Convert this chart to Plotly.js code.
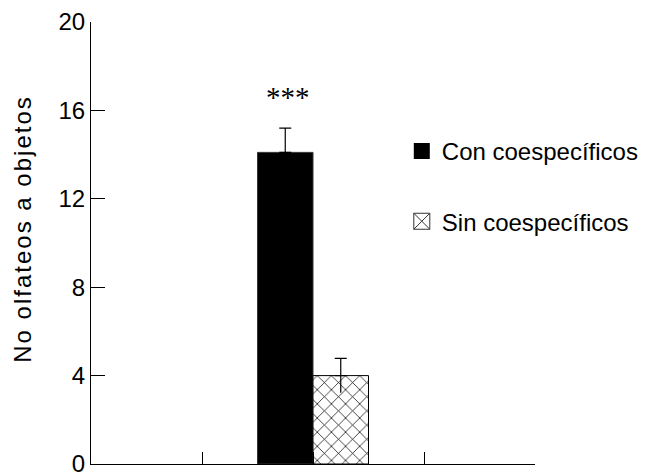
<!DOCTYPE html>
<html>
<head>
<meta charset="utf-8">
<script src="https://cdn.plot.ly/plotly-3.0.1.min.js"></script>
<style>
html,body{margin:0;padding:0;background:#fff;}
#chart{width:652px;height:474px;}
#chart .annotation.ytitle-ann text{letter-spacing:2px;}
</style>
</head>
<body>
<div id="chart"></div>
<script>
const seriesNames = ["Con coespecíficos", "Sin coespecíficos"];
const barX = [1.75, 2.25];
const barValues = [14.1, 4.0];
const barErrors = [1.1, 0.78];
const yTickVals = [0, 4, 8, 12, 16, 20];
const yTickText = ["0", "4", "8", "12", "16", "20"];
const xTickVals = [0, 1, 2, 3, 4];
const significance = "***";
const significanceY = 16.6;
const yTitle = "No olfateos a objetos";

const FONT = "Liberation Sans, Arial, sans-serif";

const traces = [
  {
    type: "bar", x: [barX[0]], y: [barValues[0]], width: 0.5, showlegend: false,
    marker: {color: "#000", line: {color: "#333", width: 1}},
    error_y: {type: "data", array: [barErrors[0]], arrayminus: [0], color: "#000", thickness: 1.2, width: 6},
    hoverinfo: "skip"
  },
  {
    type: "bar", x: [barX[1]], y: [barValues[1]], width: 0.5, showlegend: false,
    marker: {color: "#fff", line: {color: "#000", width: 1},
      pattern: {shape: "x", size: 10, solidity: 0.14, fgcolor: "#000", bgcolor: "#fff"}},
    error_y: {type: "data", array: [barErrors[1]], arrayminus: [0], color: "#000", thickness: 1.2, width: 6},
    hoverinfo: "skip"
  },
  {
    type: "scatter", mode: "lines", x: [barX[1], barX[1]], y: [barValues[1] - barErrors[1], barValues[1]],
    line: {color: "#000", width: 1.2}, showlegend: false, hoverinfo: "skip"
  },
  {
    type: "scatter", mode: "markers", x: [null], y: [null], name: seriesNames[0], legendgroup: "a",
    marker: {symbol: "square", color: "#000", size: 16}
  },
  {
    type: "scatter", mode: "markers", x: [null], y: [null], name: seriesNames[1], legendgroup: "b",
    marker: {symbol: "square-x-open", color: "#333", size: 16, line: {width: 1}}
  }
];

const layout = {
  width: 652, height: 474,
  margin: {l: 91, r: 117, t: 22, b: 10, pad: 0, autoexpand: false},
  paper_bgcolor: "#fff", plot_bgcolor: "#fff",
  font: {family: FONT, size: 24, color: "#000"},
  showlegend: true,
  legend: {x: 0.7, y: 0.758, xanchor: "left", yanchor: "top", traceorder: "grouped", tracegroupgap: 36,
    font: {family: FONT, size: 24, color: "#000"}, bgcolor: "rgba(0,0,0,0)"},
  xaxis: {
    range: [0, 4], tickvals: xTickVals, ticks: "inside", ticklen: 12, tickcolor: "#000", tickwidth: 1,
    showticklabels: false, showgrid: false, zeroline: false, showline: true, linecolor: "#000", linewidth: 1, fixedrange: true
  },
  yaxis: {
    range: [0, 20], tickvals: yTickVals, ticktext: yTickText, ticks: "inside", ticklen: 14, tickcolor: "#000", tickwidth: 1,
    showgrid: false, zeroline: false, showline: true, linecolor: "#000", linewidth: 1, fixedrange: true,
    ticklabeloverflow: "allow",
    tickfont: {family: FONT, size: 24, color: "#000"}
  },
  annotations: [
    {
      x: barX[0], y: significanceY, xref: "x", yref: "y", text: significance, showarrow: false, xshift: 3,
      font: {family: "Liberation Serif, serif", size: 29, color: "#000"}
    },
    {
      x: 0, y: 0.53, xref: "paper", yref: "paper", text: yTitle, showarrow: false, textangle: -90,
      xanchor: "center", yanchor: "middle",
      font: {family: FONT, size: 24, color: "#000"}
    }
  ]
};
// title annotation sits 23px from the left edge of the page
layout.annotations[1].x = (23 - layout.margin.l) / (layout.width - layout.margin.l - layout.margin.r);

Plotly.newPlot("chart", traces, layout, {displayModeBar: false, staticPlot: true}).then(function (gd) {
  gd.querySelectorAll(".annotation").forEach(function (a) {
    if (a.textContent === yTitle) a.classList.add("ytitle-ann");
  });
});
</script>
</body>
</html>
